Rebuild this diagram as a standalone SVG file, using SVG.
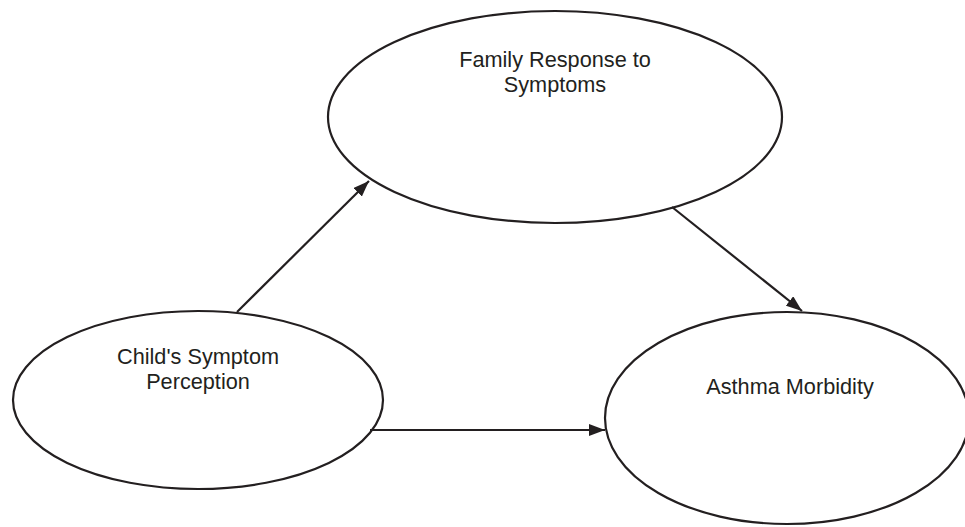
<svg xmlns="http://www.w3.org/2000/svg" width="965" height="527" viewBox="0 0 965 527">
<defs>
<marker id="ah" markerWidth="16" markerHeight="12" refX="16" refY="6" orient="auto" markerUnits="userSpaceOnUse">
<path d="M0,0 L16,6 L0,12 Z" fill="#231f20"/>
</marker>
<style>
.node ellipse{fill:#fff;stroke:#231f20;stroke-width:2.2}
.node text{font-family:"Liberation Sans",Arial,sans-serif;font-size:21.7px;fill:#231f20;text-anchor:middle}
.edges line{stroke:#231f20;stroke-width:2.2;marker-end:url(#ah)}
</style>
</defs>
<rect width="965" height="527" fill="#fff"/>
<g id="family">
<g class="node">
<ellipse cx="555" cy="117" rx="227" ry="106"/>
<text x="555" y="67">Family Response to</text>
<text x="555" y="92">Symptoms</text>
</g>
</g>
<g id="child">
<g class="node">
<ellipse cx="198" cy="400" rx="185" ry="89"/>
<text x="198" y="364">Child's Symptom</text>
<text x="198" y="389">Perception</text>
</g>
</g>
<g id="asthma">
<g class="node">
<ellipse cx="787" cy="418" rx="182" ry="106"/>
<text x="790" y="394">Asthma Morbidity</text>
</g>
</g>
<g id="connectors" class="edges">
<line x1="237" y1="312" x2="369" y2="181"/>
<line x1="672" y1="207" x2="802" y2="311"/>
<line x1="370" y1="430" x2="605" y2="430"/>
</g>
</svg>
